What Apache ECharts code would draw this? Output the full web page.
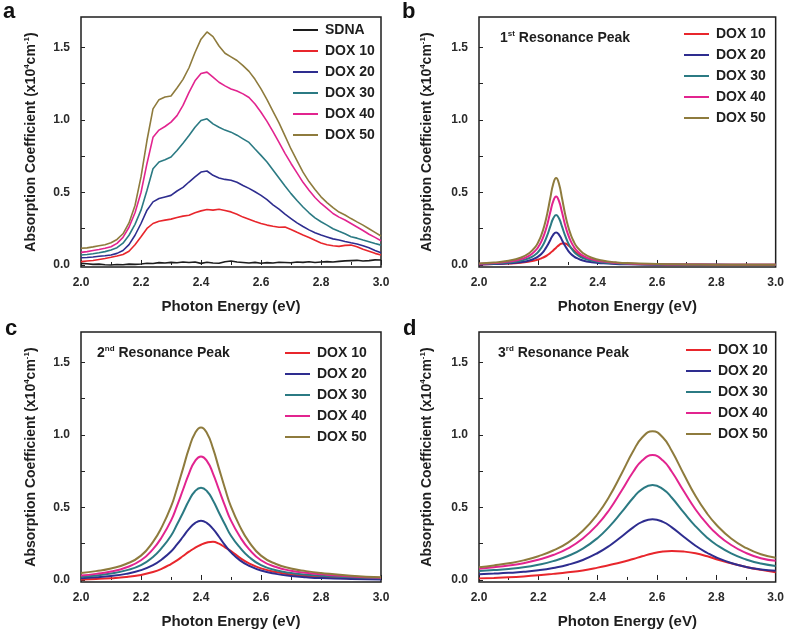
<!DOCTYPE html>
<html>
<head>
<meta charset="utf-8">
<script src="https://cdn.jsdelivr.net/npm/echarts@6/dist/echarts.min.js"></script>
<style>
html,body{margin:0;padding:0;background:#fff;}
#chart{width:787px;height:630px;}
</style>
</head>
<body>
<div id="chart"></div>
<script>
// ---------- Panel a (measured spectra) ----------
const xA = [2.00,2.02,2.04,2.06,2.08,2.10,2.12,2.14,2.16,2.18,2.20,2.22,2.24,2.26,2.28,2.30,2.32,2.34,2.36,2.38,2.40,2.42,2.44,2.46,2.48,2.50,2.52,2.54,2.56,2.58,2.60,2.62,2.64,2.66,2.68,2.70,2.72,2.74,2.76,2.78,2.80,2.82,2.84,2.86,2.88,2.90,2.92,2.94,2.96,2.98,3.00];
const sdnaA = [0.011,0.008,0.004,0.006,0.002,0.000,0.003,0.001,0.006,0.004,0.007,0.012,0.010,0.016,0.014,0.018,0.015,0.020,0.017,0.021,0.011,0.019,0.014,0.012,0.022,0.027,0.020,0.017,0.014,0.018,0.012,0.016,0.014,0.019,0.017,0.015,0.020,0.018,0.022,0.017,0.020,0.023,0.021,0.025,0.028,0.030,0.032,0.027,0.030,0.035,0.034];
const dox10A = [0.023,0.027,0.031,0.038,0.045,0.053,0.062,0.072,0.095,0.140,0.195,0.252,0.286,0.302,0.309,0.316,0.327,0.337,0.343,0.360,0.373,0.382,0.378,0.384,0.375,0.366,0.350,0.330,0.315,0.300,0.286,0.275,0.267,0.260,0.262,0.245,0.225,0.207,0.190,0.170,0.152,0.140,0.132,0.128,0.135,0.137,0.125,0.108,0.095,0.080,0.069];
const dox20A = [0.050,0.052,0.055,0.060,0.064,0.069,0.080,0.100,0.140,0.205,0.286,0.378,0.435,0.458,0.469,0.480,0.510,0.535,0.572,0.607,0.641,0.648,0.618,0.600,0.590,0.584,0.570,0.548,0.528,0.505,0.480,0.450,0.415,0.385,0.350,0.320,0.290,0.265,0.242,0.222,0.206,0.193,0.180,0.172,0.162,0.153,0.145,0.132,0.118,0.100,0.085];
const dox30A = [0.069,0.072,0.077,0.084,0.092,0.103,0.119,0.150,0.205,0.280,0.378,0.515,0.664,0.710,0.726,0.744,0.790,0.840,0.893,0.950,0.996,1.008,0.973,0.950,0.930,0.916,0.895,0.870,0.845,0.800,0.756,0.710,0.655,0.600,0.545,0.492,0.445,0.400,0.360,0.325,0.298,0.275,0.250,0.232,0.215,0.195,0.185,0.172,0.160,0.148,0.137];
const dox40A = [0.087,0.092,0.100,0.107,0.115,0.126,0.149,0.190,0.260,0.360,0.500,0.700,0.880,0.930,0.955,0.985,1.030,1.100,1.190,1.270,1.320,1.330,1.295,1.260,1.235,1.214,1.200,1.180,1.155,1.110,1.053,0.990,0.920,0.845,0.770,0.700,0.635,0.570,0.515,0.465,0.424,0.390,0.355,0.330,0.310,0.286,0.262,0.238,0.212,0.190,0.167];
const dox50A = [0.115,0.118,0.125,0.133,0.140,0.153,0.176,0.215,0.290,0.410,0.607,0.860,1.076,1.140,1.158,1.165,1.220,1.280,1.360,1.465,1.557,1.607,1.575,1.510,1.460,1.435,1.410,1.375,1.335,1.280,1.214,1.140,1.060,0.980,0.890,0.800,0.720,0.640,0.575,0.520,0.470,0.430,0.395,0.365,0.345,0.320,0.297,0.275,0.250,0.225,0.200];

// ---------- Panel b (1st resonance peak) ----------
const xB = [2.00,2.05,2.10,2.14,2.17,2.19,2.20,2.21,2.22,2.23,2.24,2.25,2.26,2.27,2.28,2.29,2.30,2.31,2.32,2.33,2.35,2.38,2.42,2.46,2.50,2.60,2.70,2.80,2.90,3.00];
const dox10B = [0.004,0.006,0.010,0.016,0.024,0.032,0.038,0.046,0.055,0.067,0.082,0.100,0.119,0.137,0.148,0.148,0.137,0.119,0.100,0.082,0.055,0.032,0.018,0.011,0.007,0.003,0.002,0.001,0.001,0.001];
const dox20B = [0.004,0.006,0.011,0.019,0.031,0.047,0.059,0.076,0.100,0.132,0.171,0.208,0.224,0.208,0.171,0.132,0.100,0.076,0.059,0.047,0.031,0.019,0.011,0.007,0.005,0.002,0.001,0.001,0.000,0.000];
const dox30B = [0.007,0.010,0.017,0.029,0.048,0.072,0.091,0.118,0.154,0.204,0.264,0.320,0.345,0.320,0.264,0.204,0.154,0.118,0.091,0.072,0.048,0.029,0.017,0.011,0.008,0.004,0.002,0.001,0.001,0.001];
const dox40B = [0.009,0.013,0.023,0.039,0.065,0.099,0.125,0.161,0.211,0.278,0.361,0.438,0.472,0.438,0.361,0.278,0.211,0.161,0.125,0.099,0.065,0.039,0.023,0.015,0.010,0.005,0.003,0.002,0.001,0.001];
const dox50B = [0.011,0.017,0.029,0.050,0.083,0.125,0.159,0.205,0.268,0.354,0.458,0.557,0.600,0.557,0.458,0.354,0.268,0.205,0.159,0.125,0.083,0.050,0.029,0.019,0.013,0.007,0.004,0.002,0.002,0.001];

// ---------- Panel c (2nd resonance peak) ----------
const xC = [2.00,2.05,2.10,2.15,2.20,2.24,2.27,2.30,2.32,2.34,2.36,2.38,2.40,2.42,2.44,2.46,2.48,2.50,2.53,2.56,2.60,2.65,2.70,2.75,2.80,2.90,3.00];
const dox10C = [0.004,0.007,0.012,0.020,0.035,0.055,0.078,0.110,0.135,0.165,0.195,0.222,0.243,0.258,0.264,0.250,0.225,0.200,0.152,0.115,0.080,0.055,0.038,0.027,0.020,0.010,0.006];
const dox20C = [0.012,0.018,0.027,0.042,0.068,0.102,0.143,0.196,0.245,0.298,0.352,0.392,0.408,0.392,0.352,0.298,0.240,0.190,0.135,0.098,0.065,0.042,0.028,0.019,0.013,0.007,0.004];
const dox30C = [0.022,0.031,0.044,0.066,0.102,0.159,0.223,0.305,0.382,0.464,0.548,0.612,0.636,0.612,0.548,0.464,0.382,0.305,0.223,0.159,0.102,0.067,0.048,0.037,0.029,0.018,0.011];
const dox40C = [0.030,0.042,0.058,0.086,0.136,0.213,0.298,0.409,0.511,0.622,0.734,0.820,0.852,0.820,0.734,0.622,0.511,0.409,0.298,0.213,0.136,0.089,0.064,0.049,0.039,0.024,0.015];
const dox50C = [0.048,0.061,0.079,0.110,0.168,0.263,0.368,0.505,0.631,0.768,0.907,1.012,1.052,1.012,0.907,0.768,0.631,0.505,0.368,0.263,0.168,0.110,0.079,0.061,0.048,0.029,0.019];

// ---------- Panel d (3rd resonance peak) ----------
const xD = [2.00,2.05,2.10,2.15,2.20,2.25,2.30,2.35,2.40,2.44,2.48,2.52,2.55,2.585,2.62,2.65,2.69,2.73,2.77,2.80,2.85,2.90,2.95,3.00];
const dox10D = [0.011,0.014,0.018,0.024,0.032,0.042,0.053,0.066,0.085,0.103,0.122,0.145,0.163,0.183,0.196,0.200,0.196,0.184,0.163,0.143,0.115,0.090,0.070,0.054];
const dox20D = [0.040,0.044,0.049,0.056,0.067,0.083,0.105,0.138,0.186,0.236,0.298,0.363,0.401,0.419,0.401,0.363,0.298,0.236,0.186,0.155,0.117,0.090,0.073,0.063];
const dox30D = [0.062,0.068,0.076,0.087,0.105,0.130,0.165,0.216,0.290,0.370,0.466,0.567,0.627,0.655,0.627,0.567,0.466,0.370,0.290,0.243,0.183,0.141,0.113,0.097];
const dox40D = [0.078,0.088,0.100,0.116,0.140,0.172,0.218,0.286,0.383,0.486,0.613,0.746,0.824,0.861,0.824,0.746,0.613,0.486,0.383,0.320,0.241,0.186,0.150,0.132];
const dox50D = [0.087,0.100,0.115,0.135,0.164,0.203,0.258,0.339,0.455,0.579,0.731,0.889,0.982,1.026,0.982,0.889,0.731,0.579,0.455,0.381,0.286,0.221,0.177,0.154];

// ---------- labels ----------
const seriesNames = ['SDNA','DOX 10','DOX 20','DOX 30','DOX 40','DOX 50'];
const xTickLabels = [2.0,2.2,2.4,2.6,2.8,3.0];
const yTickLabels = [0.0,0.5,1.0,1.5];
const yTickMarks = [0,0.25,0.5,0.75,1.0,1.25,1.5];
const panelLetters = ['a','b','c','d'];
const peakTitles = [null,['1','st'],['2','nd'],['3','rd']];

const colors = {
  'SDNA':'#1c1c1c','DOX 10':'#e8262c','DOX 20':'#2e2d8f',
  'DOX 30':'#2b7a83','DOX 40':'#e2248f','DOX 50':'#8e7b3d'
};
const FONT = '"Liberation Sans", Arial, Helvetica, sans-serif';
const TXT = '#1e1e1e';

const grids = [
  {left:81, top:17, width:300, height:250},
  {left:479, top:17, width:300, height:250},
  {left:81, top:332, width:300, height:251},
  {left:479, top:332, width:300, height:251}
];

const panels = [
  {x:xA, ys:[sdnaA,dox10A,dox20A,dox30A,dox40A,dox50A], names:seriesNames, smooth:false, width:1.6},
  {x:xB, ys:[dox10B,dox20B,dox30B,dox40B,dox50B], names:seriesNames.slice(1), smooth:0.5, width:2},
  {x:xC, ys:[dox10C,dox20C,dox30C,dox40C,dox50C], names:seriesNames.slice(1), smooth:0.5, width:2},
  {x:xD, ys:[dox10D,dox20D,dox30D,dox40D,dox50D], names:seriesNames.slice(1), smooth:0.5, width:2}
];

const xAxes = grids.map((g,i)=>({
  gridIndex:i, type:'value', min:2, max:3, interval:0.2,
  name:'Photon Energy (eV)', nameLocation:'middle', nameGap:32,
  nameTextStyle:{fontFamily:FONT, fontWeight:'bold', fontSize:15, color:TXT},
  axisLine:{show:false},
  axisTick:{show:true, inside:true, length:5, lineStyle:{color:'#222', width:1}},
  minorTick:{show:true, splitNumber:2, length:3, lineStyle:{color:'#222', width:1}},
  axisLabel:{fontFamily:FONT, fontWeight:'bold', fontSize:12, color:'#2a2a2a', margin:10,
    showMinLabel:true, showMaxLabel:true,
    formatter:v=>Number(v).toFixed(1)},
  splitLine:{show:false}, minorSplitLine:{show:false}
}));

const yAxes = grids.map((g,i)=>({
  gridIndex:i, type:'value', min:-0.014, max:1.71,
  name:'{n|Absorption Coefficient (x10}{s|4}{n|cm}{s|-1}{n|)}',
  nameLocation:'middle', nameRotate:90, nameGap:(i%2===0?42:44),
  nameTextStyle:{
    rich:{
      n:{fontFamily:FONT, fontWeight:'bold', fontSize:14, color:TXT, lineHeight:16},
      s:{fontFamily:FONT, fontWeight:'bold', fontSize:8, color:TXT, lineHeight:16, verticalAlign:'top'}
    }
  },
  axisLine:{show:false},
  axisTick:{show:true, inside:true, length:4, customValues:yTickMarks, lineStyle:{color:'#222', width:1}},
  axisLabel:{fontFamily:FONT, fontWeight:'bold', fontSize:12, color:'#2a2a2a', margin:11,
    customValues:yTickLabels, formatter:v=>Number(v).toFixed(1)},
  splitLine:{show:false}
}));

const series = [];
panels.forEach((p,gi)=>{
  p.names.forEach((nm,k)=>{
    series.push({
      type:'line', name:nm, xAxisIndex:gi, yAxisIndex:gi,
      data:p.x.map((xv,j)=>[xv, p.ys[k][j]]),
      symbol:'none', showSymbol:false, smooth:p.smooth, clip:true,
      lineStyle:{color:colors[nm], width:p.width},
      itemStyle:{color:colors[nm]},
      emphasis:{disabled:true}, silent:true
    });
  });
});

const legendPos = [
  {left:293, top:23},
  {left:684, top:27},
  {left:285, top:346},
  {left:686, top:343}
];
const legends = panels.map((p,i)=>({
  show:true, orient:'vertical', left:legendPos[i].left, top:legendPos[i].top,
  padding:0, itemGap:7, itemWidth:25, itemHeight:2, icon:'rect',
  data:p.names.map(n=>({name:n, icon:'rect', itemStyle:{color:colors[n]}})), selectedMode:false,
  textStyle:{fontFamily:FONT, fontWeight:'bold', fontSize:14, lineHeight:14, height:14, color:TXT, padding:[0,0,0,2]}
}));

const letterPos = [[3,12],[402,12],[5,329],[403,329]];
const titlePos = [null,[500,38],[97,353],[498,353]];
const graphics = [];
panelLetters.forEach((l,i)=>{
  graphics.push({type:'text', left:letterPos[i][0], top:letterPos[i][1]-11,
    style:{text:l, font:'bold 22px '+FONT, fill:'#111'}});
});
peakTitles.forEach((t,i)=>{
  if(!t) return;
  graphics.push({type:'text', left:titlePos[i][0], top:titlePos[i][1]-8,
    style:{text:'{n|'+t[0]+'}{s|'+t[1]+'}{n| Resonance Peak}',
      rich:{
        n:{font:'bold 14px '+FONT, fill:TXT, lineHeight:16},
        s:{font:'bold 8px '+FONT, fill:TXT, lineHeight:16, verticalAlign:'top'}
      }}});
});

const chart = echarts.init(document.getElementById('chart'), null, {renderer:'canvas'});
chart.setOption({
  animation:false,
  backgroundColor:'#ffffff',
  grid:grids.map(g=>Object.assign({show:true, borderColor:'#1e1e1e', borderWidth:1.5, backgroundColor:'transparent', containLabel:false}, g)),
  xAxis:xAxes, yAxis:yAxes, series:series, legend:legends, graphic:graphics
});
</script>
</body>
</html>
